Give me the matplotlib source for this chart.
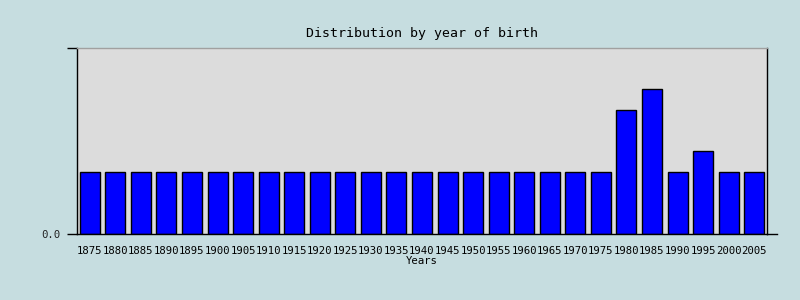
import numpy as np
import matplotlib
matplotlib.use('Agg')
import matplotlib.pyplot as plt
from matplotlib.lines import Line2D

# data
years = [str(y) for y in range(1875, 2010, 5)]
counts = [3] * 21 + [6, 7, 3, 4, 3, 3]

plt.rcParams['font.family'] = ['DejaVu Sans Mono']

fig = plt.figure(figsize=(8, 3), dpi=100)
fig.patch.set_facecolor('#c6dde0')

ax = fig.add_axes([77 / 800, 66 / 300, 690 / 800, 186 / 300])
ax.set_facecolor('#dcdcdc')

x = np.arange(len(years))
ax.bar(x, counts, width=0.78, color='#0000ff', edgecolor='black', linewidth=1)

ax.set_xlim(-0.5, len(years) - 0.5)
ax.set_ylim(0, 9)

ax.set_xticks(x)
ax.set_xticklabels(years, fontsize=7.7)
ax.tick_params(axis='x', length=0, pad=9)
ax.set_yticks([0, 9])
ax.set_yticklabels(['0.0', ''], fontsize=7.7, color='#222222')
ax.tick_params(axis='y', length=7.2, width=1, direction='out', pad=5)

for side in ['left', 'right', 'bottom']:
    ax.spines[side].set_color('black')
    ax.spines[side].set_linewidth(1)
ax.spines['top'].set_color('#a0a0a0')
ax.spines['top'].set_linewidth(1)

# x axis line runs a little past the right border
ax.add_line(Line2D([1, 1 + 10 / 690], [0, 0], transform=ax.transAxes,
                   color='black', linewidth=1, clip_on=False))

ax.set_xlabel('Years', fontsize=7.7, labelpad=0)
ax.set_title('Distribution by year of birth', fontsize=9.5, pad=8)

fig.savefig('out.png', dpi=100, facecolor=fig.get_facecolor())
